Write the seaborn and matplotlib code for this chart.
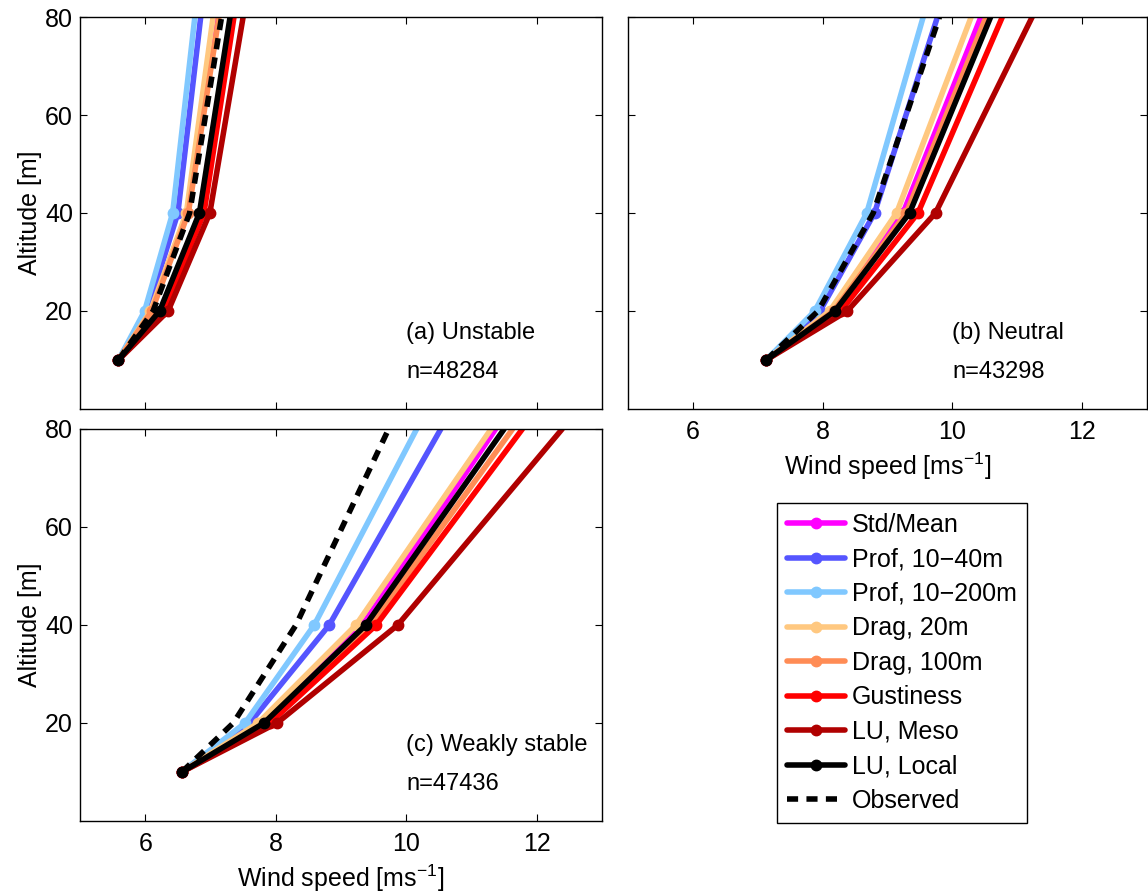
import matplotlib
matplotlib.use("Agg")
import matplotlib.pyplot as plt
import numpy as np
import pandas as pd
import seaborn as sns
from matplotlib.lines import Line2D

# ---------------- data ----------------
altitudes = [10, 20, 40, 80]
series_names = ["Std/Mean", "Prof, 10\u221240m", "Prof, 10\u2212200m", "Drag, 20m",
                "Drag, 100m", "Gustiness", "LU, Meso", "LU, Local", "Observed"]
series_colors = ["#FF00FF", "#5555FF", "#80C8FF", "#FFC880", "#FF8C55",
                 "#FF0000", "#B00000", "#000000", "#000000"]
panel_titles = ["(a) Unstable", "(b) Neutral", "(c) Weakly stable"]
panel_counts = ["n=48284", "n=43298", "n=47436"]
x_ticks = [6, 8, 10, 12]
y_ticks = [20, 40, 60, 80]

# (a) Unstable
unstable_std_mean = [5.59, 6.09, 6.64, 7.10]
unstable_prof_10_40 = [5.59, 6.03, 6.50, 6.85]
unstable_prof_10_200 = [5.59, 5.99, 6.42, 6.76]
unstable_drag_20 = [5.59, 6.08, 6.63, 7.04]
unstable_drag_100 = [5.59, 6.10, 6.66, 7.13]
unstable_gustiness = [5.59, 6.28, 6.90, 7.36]
unstable_lu_meso = [5.59, 6.35, 6.99, 7.50]
unstable_lu_local = [5.59, 6.22, 6.83, 7.30]
unstable_observed = [5.59, 6.12, 6.68, 7.17]

# (b) Neutral
neutral_std_mean = [7.13, 8.15, 9.24, 10.44]
neutral_prof_10_40 = [7.13, 7.96, 8.80, 9.77]
neutral_prof_10_200 = [7.13, 7.88, 8.68, 9.55]
neutral_drag_20 = [7.13, 8.11, 9.14, 10.29]
neutral_drag_100 = [7.13, 8.17, 9.29, 10.52]
neutral_gustiness = [7.13, 8.28, 9.47, 10.77]
neutral_lu_meso = [7.13, 8.38, 9.74, 11.23]
neutral_lu_local = [7.13, 8.19, 9.34, 10.59]
neutral_observed = [7.13, 7.93, 8.78, 9.80]

# (c) Weakly stable
stable_std_mean = [6.56, 7.78, 9.33, 11.37]
stable_prof_10_40 = [6.56, 7.60, 8.82, 10.53]
stable_prof_10_200 = [6.56, 7.53, 8.59, 10.16]
stable_drag_20 = [6.56, 7.73, 9.23, 11.30]
stable_drag_100 = [6.56, 7.85, 9.46, 11.63]
stable_gustiness = [6.56, 7.91, 9.54, 11.78]
stable_lu_meso = [6.56, 8.02, 9.87, 12.39]
stable_lu_local = [6.56, 7.82, 9.38, 11.50]
stable_observed = [6.56, 7.35, 8.31, 9.73]

panel_values = [
    [unstable_std_mean, unstable_prof_10_40, unstable_prof_10_200, unstable_drag_20,
     unstable_drag_100, unstable_gustiness, unstable_lu_meso, unstable_lu_local, unstable_observed],
    [neutral_std_mean, neutral_prof_10_40, neutral_prof_10_200, neutral_drag_20,
     neutral_drag_100, neutral_gustiness, neutral_lu_meso, neutral_lu_local, neutral_observed],
    [stable_std_mean, stable_prof_10_40, stable_prof_10_200, stable_drag_20,
     stable_drag_100, stable_gustiness, stable_lu_meso, stable_lu_local, stable_observed],
]

# ---------------- style ----------------
sns.set_style("ticks")
plt.rcParams["font.family"] = ["Liberation Sans", "DejaVu Sans"]
plt.rcParams["mathtext.default"] = "regular"
plt.rcParams.update({
    "text.color": "black", "axes.labelcolor": "black",
    "xtick.direction": "in", "ytick.direction": "in",
    "xtick.top": True, "ytick.right": True,
    "xtick.major.size": 5, "ytick.major.size": 5,
    "xtick.major.width": 0.8, "ytick.major.width": 0.8,
    "xtick.major.pad": 8, "ytick.major.pad": 5,
    "axes.linewidth": 1.0, "axes.edgecolor": "black",
    "xtick.color": "black", "ytick.color": "black",
    "xtick.labelsize": 18, "ytick.labelsize": 18, "axes.labelsize": 18,
})

W, H = 1148, 894
fig = plt.figure(figsize=(W / 100, H / 100), dpi=100)

def px_axes(l, t, r, b):
    return fig.add_axes([l / W, 1 - b / H, (r - l) / W, (b - t) / H])

ax_a = px_axes(80, 17, 602, 409)
ax_b = px_axes(628, 17, 1147, 409)
ax_c = px_axes(80, 429, 602, 821)
axes = [ax_a, ax_b, ax_c]

LW = 4.0
MS = 7.5
for ax, values, title, count in zip(axes, panel_values, panel_titles, panel_counts):
    for name, color, vals in zip(series_names, series_colors, values):
        df = pd.DataFrame({"speed": vals, "alt": altitudes})
        if name == "Observed":
            sns.lineplot(data=df, x="speed", y="alt", ax=ax, orient="y", sort=True,
                         estimator=None, legend=False, color=color, lw=LW,
                         linestyle=(0, (2.0, 1.5)))
        else:
            sns.lineplot(data=df, x="speed", y="alt", ax=ax, orient="y", sort=True,
                         estimator=None, legend=False, color=color, lw=LW,
                         marker="o", markersize=MS, markeredgecolor=color,
                         markeredgewidth=1, markevery=[0, 1, 2])
    ax.set_xlim(5, 13)
    ax.set_ylim(0, 80)
    ax.set_xticks(x_ticks)
    ax.set_yticks(y_ticks)
    ax.set_xlabel("")
    ax.set_ylabel("")
    ax.text(10, 15.5, title, fontsize=17, ha="left", va="center", color="black")
    ax.text(10, 7.5, count, fontsize=17, ha="left", va="center", color="black")
    for s in ax.spines.values():
        s.set_visible(True)
        s.set_color("black")

ax_a.tick_params(axis="x", labelbottom=False)
ax_b.tick_params(axis="y", labelleft=False)
ax_a.set_ylabel("Altitude [m]", labelpad=2)
ax_c.set_ylabel("Altitude [m]", labelpad=2)
ax_b.set_xlabel("Wind speed [ms$^{-1}$]", labelpad=5)
ax_c.set_xlabel("Wind speed [ms$^{-1}$]", labelpad=5)

handles = []
for name, color in zip(series_names, series_colors):
    if name == "Observed":
        handles.append(Line2D([], [], color=color, lw=LW, linestyle=(0, (2.0, 1.5))))
    else:
        handles.append(Line2D([], [], color=color, lw=LW, marker="o", markersize=MS,
                              markeredgecolor=color))

leg = fig.legend(handles, series_names, loc="upper left",
                 bbox_to_anchor=(777 / W, 1 - 503 / H), bbox_transform=fig.transFigure,
                 fontsize=18, frameon=True, fancybox=False, edgecolor="black",
                 framealpha=1, handlelength=2.3, handletextpad=0.3,
                 labelspacing=0.42, borderpad=0.4, borderaxespad=0)
leg.get_frame().set_linewidth(1.0)
for t in leg.get_texts():
    t.set_color("black")

fig.savefig("out.png", dpi=100)
